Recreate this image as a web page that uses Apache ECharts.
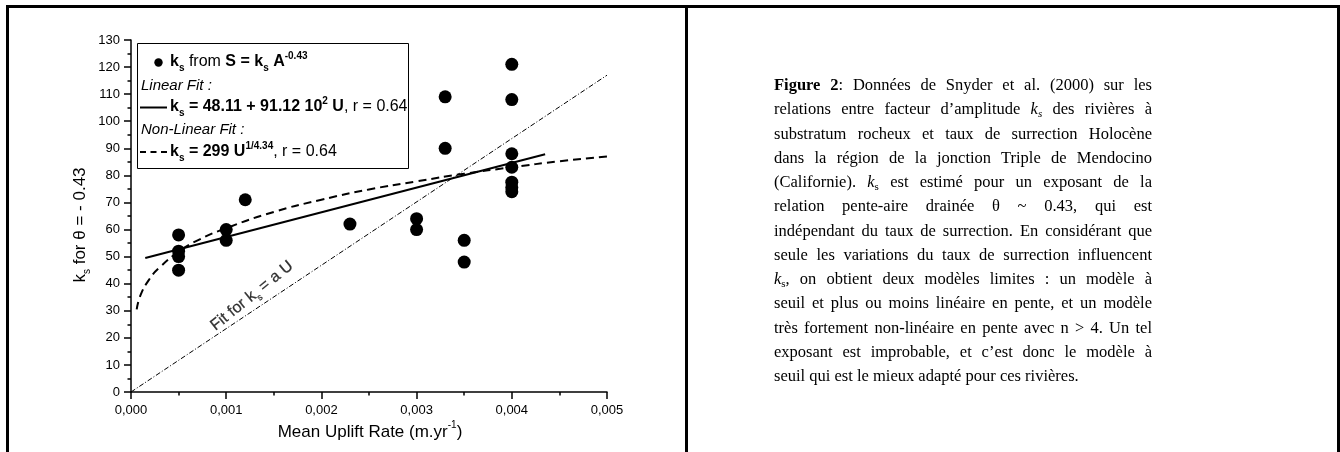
<!DOCTYPE html>
<html>
<head>
<meta charset="utf-8">
<script src="https://cdn.jsdelivr.net/npm/echarts@6/dist/echarts.min.js"></script>
<style>
  html, body { margin: 0; padding: 0; background: #fff; }
  #wrap { position: relative; width: 1340px; height: 452px; overflow: hidden; }
  #chart { position: absolute; left: 0; top: 0; width: 1340px; height: 452px; }
  #frame { position: absolute; left: 6px; top: 5px; width: 1334px; height: 520px; box-sizing: border-box; border: 3px solid #000; pointer-events: none; }
  #divider { position: absolute; left: 685px; top: 5px; width: 3px; height: 460px; background: #000; }
  #caption { position: absolute; left: 774px; top: 73px; width: 378px; font-family: 'Liberation Serif', 'Times New Roman', serif; font-size: 16.5px; line-height: 24.25px; color: #000; }
  #caption div { text-align: justify; text-align-last: justify; white-space: nowrap; }
  #caption div.last { text-align: left; text-align-last: left; }
  #caption sub { font-size: 11px; line-height: 0; vertical-align: -3px; }
</style>
</head>
<body>
<div id="wrap">
  <div id="chart"></div>
  <div id="frame"></div>
  <div id="divider"></div>
  <div id="caption">
    <div><b>Figure 2</b>: Données de Snyder et al. (2000) sur les</div>
    <div>relations entre facteur d’amplitude <i>k<sub>s</sub></i> des rivières à</div>
    <div>substratum rocheux et taux de surrection Holocène</div>
    <div>dans la région de la jonction Triple de Mendocino</div>
    <div>(Californie). <i>k</i><sub>s</sub> est estimé pour un exposant de la</div>
    <div>relation pente-aire drainée θ ~ 0.43, qui est</div>
    <div>indépendant du taux de surrection. En considérant que</div>
    <div>seule les variations du taux de surrection influencent</div>
    <div><i>k</i><sub>s</sub>, on obtient deux modèles limites : un modèle à</div>
    <div>seuil et plus ou moins linéaire en pente, et un modèle</div>
    <div>très fortement non-linéaire en pente avec n &gt; 4. Un tel</div>
    <div>exposant est improbable, et c’est donc le modèle à</div>
    <div class="last">seuil qui est le mieux adapté pour ces rivières.</div>
  </div>
</div>
<script>
// ---- data ----
const upliftU = [0.0005, 0.0005, 0.0005, 0.0005, 0.001, 0.001, 0.0012, 0.0023, 0.003, 0.003, 0.0033, 0.0033, 0.0035, 0.0035, 0.004, 0.004, 0.004, 0.004, 0.004, 0.004, 0.004];
const ksValues = [58, 52, 50, 45, 60, 56, 71, 62, 64, 60, 109, 90, 56, 48, 121, 108, 88, 83, 77.5, 75.5, 74];

const linearFitU = [0.00015, 0.00435];
const linearFitK = [49.5, 87.8];

const nonLinFitU = [0.00006, 0.0001, 0.0002, 0.0003, 0.0005, 0.0007, 0.001, 0.0015, 0.002, 0.0025, 0.003, 0.0035, 0.004, 0.0045, 0.005];
const nonLinFitK = [30.5, 35.8, 42, 46, 51.8, 56, 60.5, 66.5, 71, 74.8, 77.8, 80.6, 83, 85.2, 87];

const propFitU = [0, 0.005];
const propFitK = [0, 117];

const fitLabelU = [0.00127];
const fitLabelK = [35.5];

const xTicks = { min: 0, max: 0.005, interval: 0.001 };
const yTicks = { min: 0, max: 130, interval: 10 };

// ---- chart ----
const FONT = "'Liberation Sans', Arial, sans-serif";
const pairs = (xs, ys) => xs.map((x, i) => [x, ys[i]]);

const chart = echarts.init(document.getElementById('chart'), null, { renderer: 'canvas' });

const richBase = {
  n: { fontFamily: FONT, fontSize: 16, color: '#000', lineHeight: 22 },
  b: { fontFamily: FONT, fontSize: 16, fontWeight: 'bold', color: '#000', lineHeight: 22 },
  i: { fontFamily: FONT, fontSize: 15, fontStyle: 'italic', color: '#000', lineHeight: 22 },
  sub: { fontFamily: FONT, fontSize: 10, color: '#000', lineHeight: 9, verticalAlign: 'bottom' },
  bsub: { fontFamily: FONT, fontSize: 10, fontWeight: 'bold', color: '#000', lineHeight: 9, verticalAlign: 'bottom' },
  sup: { fontFamily: FONT, fontSize: 10, color: '#000', lineHeight: 9, verticalAlign: 'top' },
  bsup: { fontFamily: FONT, fontSize: 10, fontWeight: 'bold', color: '#000', lineHeight: 9, verticalAlign: 'top' }
};

const titleRich = {
  n: { fontFamily: FONT, fontSize: 17, color: '#000', lineHeight: 24 },
  sub: { fontFamily: FONT, fontSize: 10, color: '#000', lineHeight: 10, verticalAlign: 'bottom' },
  sup: { fontFamily: FONT, fontSize: 10, color: '#000', lineHeight: 10, verticalAlign: 'top' }
};

const legendX = 137, legendY = 43;

chart.setOption({
  animation: false,
  backgroundColor: '#fff',
  grid: { left: 131, top: 40, width: 476, height: 352, containLabel: false },
  xAxis: {
    type: 'value',
    min: xTicks.min, max: xTicks.max, interval: xTicks.interval,
    axisLine: { show: true, onZero: false, lineStyle: { color: '#000', width: 1.5 } },
    axisTick: { show: true, inside: false, length: 7, lineStyle: { color: '#000', width: 1.5 } },
    minorTick: { show: true, splitNumber: 2, length: 3.5, lineStyle: { color: '#000', width: 1.5 } },
    splitLine: { show: false },
    axisLabel: { fontFamily: FONT, fontSize: 13, color: '#000', margin: 12, formatter: v => v.toFixed(3).replace('.', ',') }
  },
  yAxis: {
    type: 'value',
    min: yTicks.min, max: yTicks.max, interval: yTicks.interval,
    axisLine: { show: true, onZero: false, lineStyle: { color: '#000', width: 1.5 } },
    axisTick: { show: true, inside: false, length: 7, lineStyle: { color: '#000', width: 1.5 } },
    minorTick: { show: true, splitNumber: 2, length: 3.5, lineStyle: { color: '#000', width: 1.5 } },
    splitLine: { show: false },
    axisLabel: { fontFamily: FONT, fontSize: 13, color: '#000', margin: 11 }
  },
  series: [
    {
      name: 'aU', type: 'line', data: pairs(propFitU, propFitK), showSymbol: false, symbol: 'none',
      lineStyle: { color: '#000', width: 1, type: [5, 2, 1, 2] }, z: 2
    },
    {
      name: 'linear', type: 'line', data: pairs(linearFitU, linearFitK), showSymbol: false, symbol: 'none',
      lineStyle: { color: '#000', width: 2 }, z: 3
    },
    {
      name: 'nonlinear', type: 'line', data: pairs(nonLinFitU, nonLinFitK), showSymbol: false, symbol: 'none', smooth: true,
      lineStyle: { color: '#000', width: 2, type: [8, 5] }, z: 3
    },
    {
      name: 'ks', type: 'scatter', data: pairs(upliftU, ksValues), symbol: 'circle', symbolSize: 13,
      itemStyle: { color: '#000', opacity: 1 }, z: 4
    },
    {
      name: 'fitLabel', type: 'scatter', data: pairs(fitLabelU, fitLabelK), symbolSize: 0,
      itemStyle: { color: '#000' }, silent: true, z: 5,
      label: {
        show: true, position: 'inside', rotate: 39, color: '#000',
        formatter: '{n|Fit for k}{sub|s}{n| = a U}',
        rich: {
          n: { fontFamily: FONT, fontSize: 16, color: '#000', lineHeight: 22, textBorderColor: '#000', textBorderWidth: 0.25 },
          sub: { fontFamily: FONT, fontSize: 9, color: '#000', lineHeight: 9, verticalAlign: 'bottom', textBorderColor: '#000', textBorderWidth: 0.25 }
        }
      }
    }
  ],
  graphic: [
    // legend box
    { type: 'rect', shape: { x: legendX + 0.5, y: legendY + 0.5, width: 271, height: 125 }, style: { fill: '#fff', stroke: '#000', lineWidth: 1 }, z: 10 },
    { type: 'circle', shape: { cx: 158.5, cy: 62.5, r: 4.2 }, style: { fill: '#000' }, z: 11 },
    { type: 'text', x: 170, y: 62, z: 11, style: { text: '{b|k}{bsub|s}{n| from }{b|S = k}{bsub|s}{b| A}{bsup|-0.43}', rich: richBase, verticalAlign: 'middle', align: 'left' } },
    { type: 'text', x: 141, y: 86, z: 11, style: { text: '{i|Linear Fit :}', rich: richBase, verticalAlign: 'middle', align: 'left' } },
    { type: 'line', shape: { x1: 140, y1: 107.5, x2: 167, y2: 107.5 }, style: { stroke: '#000', lineWidth: 2 }, z: 11 },
    { type: 'text', x: 170, y: 107, z: 11, style: { text: '{b|k}{bsub|s}{b| = 48.11 + 91.12 10}{bsup|2}{b| U}{n|, r = 0.64}', rich: richBase, verticalAlign: 'middle', align: 'left' } },
    { type: 'text', x: 141, y: 130, z: 11, style: { text: '{i|Non-Linear Fit :}', rich: richBase, verticalAlign: 'middle', align: 'left' } },
    { type: 'line', shape: { x1: 140, y1: 152, x2: 167, y2: 152 }, style: { stroke: '#000', lineWidth: 2, lineDash: [6, 4.5] }, z: 11 },
    { type: 'text', x: 170, y: 152, z: 11, style: { text: '{b|k}{bsub|s}{b| = 299 U}{bsup|1/4.34}{n|, r = 0.64}', rich: richBase, verticalAlign: 'middle', align: 'left' } },
    // axis titles
    { type: 'text', x: 370, y: 432, z: 11, style: { text: '{n|Mean Uplift Rate (m.yr}{sup|-1}{n|)}', rich: titleRich, align: 'center', verticalAlign: 'middle' } },
    { type: 'text', x: 80, y: 225, rotation: Math.PI / 2, z: 11, style: { text: '{n|k}{sub|s}{n| for θ = - 0.43}', rich: titleRich, align: 'center', verticalAlign: 'middle' } }
  ]
});
</script>
</body>
</html>
